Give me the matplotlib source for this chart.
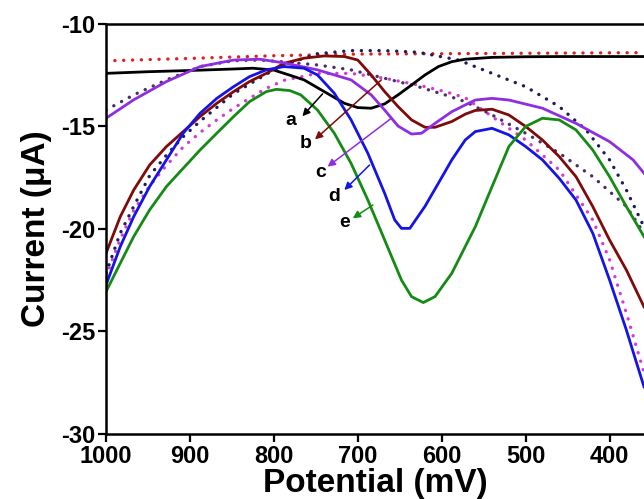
import matplotlib.pyplot as plt
import numpy as np

plt.rcParams['font.family'] = ['Liberation Sans', 'DejaVu Sans']
plt.rcParams['font.weight'] = 'bold'
plt.rcParams['axes.unicode_minus'] = False

# curve a (black)
a_x = [1000, 950, 900, 850, 825, 800, 781, 764, 740, 716, 700, 684, 668, 652, 636, 620, 604, 588, 572, 540, 500, 460, 400, 359]
a_y = [-12.41, -12.33, -12.27, -12.2, -12.16, -12.25, -12.5, -12.73, -13.3, -13.87, -14.08, -14.11, -13.9, -13.46, -12.98, -12.49, -12.08, -11.84, -11.72, -11.63, -11.6, -11.59, -11.59, -11.59]

# curve b (dark red)
b_x = [1000, 983, 967, 948, 928, 908, 888, 868, 848, 829, 809, 788, 764, 740, 716, 700, 684, 668, 652, 636, 620, 608, 588, 572, 560, 540, 520, 500, 480, 460, 440, 420, 400, 380, 359]
b_y = [-21.19, -19.4, -18.1, -16.88, -15.98, -15.25, -14.52, -13.87, -13.3, -12.81, -12.41, -11.92, -11.67, -11.56, -11.59, -11.76, -12.49, -13.3, -14.03, -14.68, -15.04, -15.04, -14.76, -14.4, -14.22, -14.16, -14.44, -15.0, -15.66, -16.47, -17.45, -18.91, -20.54, -22.0, -23.8]

# curve c (violet)
c_x = [1000, 967, 928, 888, 848, 817, 788, 748, 708, 684, 668, 652, 636, 624, 608, 588, 572, 560, 540, 520, 480, 440, 400, 372, 359]
c_y = [-14.6, -13.7, -12.81, -12.08, -11.76, -11.72, -11.9, -12.24, -12.73, -13.46, -14.2, -14.98, -15.37, -15.33, -14.85, -14.28, -13.95, -13.71, -13.63, -13.71, -14.11, -14.85, -15.74, -16.63, -17.28]

# curve d (blue)
d_x = [1000, 983, 967, 948, 928, 908, 888, 868, 848, 829, 809, 788, 764, 748, 728, 708, 688, 668, 656, 648, 638, 620, 604, 588, 572, 560, 540, 520, 500, 480, 460, 440, 420, 400, 380, 359]
d_y = [-22.73, -20.86, -19.4, -17.93, -16.63, -15.33, -14.36, -13.63, -13.06, -12.57, -12.24, -12.08, -12.16, -12.49, -13.38, -14.68, -16.31, -18.26, -19.56, -19.97, -19.97, -18.9, -17.77, -16.63, -15.66, -15.25, -15.09, -15.41, -15.98, -16.63, -17.53, -18.59, -20.21, -22.49, -24.93, -27.7]

# curve e (green)
e_x = [1000, 983, 967, 948, 928, 908, 888, 868, 848, 829, 809, 797, 781, 768, 748, 728, 708, 688, 668, 648, 636, 622, 608, 588, 572, 560, 540, 520, 500, 480, 460, 440, 420, 400, 380, 359]
e_y = [-23.06, -21.67, -20.37, -19.07, -17.93, -17.04, -16.15, -15.33, -14.52, -13.79, -13.3, -13.19, -13.25, -13.46, -14.2, -15.33, -16.8, -18.59, -20.54, -22.49, -23.3, -23.59, -23.3, -22.16, -20.86, -19.89, -17.93, -15.98, -15.0, -14.6, -14.68, -15.17, -16.15, -17.45, -18.91, -20.37]

# dotted curves
red_x = [1000, 900, 800, 700, 600, 500, 359]
red_y = [-11.8, -11.68, -11.55, -11.47, -11.45, -11.43, -11.4]

navy_x = [1000, 983, 967, 948, 928, 908, 888, 848, 809, 788, 748, 708, 668, 628, 580, 540, 500, 460, 428, 400, 380, 359]
navy_y = [-22.16, -20.2, -18.9, -17.4, -16.4, -15.5, -14.75, -13.4, -12.45, -12.0, -11.45, -11.3, -11.3, -11.38, -11.76, -12.41, -13.06, -14.03, -15.17, -16.63, -18.1, -19.9]

mag_x = [1000, 983, 967, 948, 928, 908, 888, 868, 848, 829, 809, 788, 748, 708, 668, 628, 596, 572, 540, 500, 460, 420, 400, 380, 359]
mag_y = [-22.3, -20.5, -19.1, -17.9, -16.9, -16.0, -15.3, -14.68, -14.11, -13.63, -13.14, -12.75, -12.41, -12.41, -12.65, -12.98, -13.3, -13.6, -14.52, -15.66, -17.12, -19.56, -21.5, -24.1, -27.0]

dark_x = [1000, 967, 928, 888, 848, 817, 788, 748, 708, 668, 628, 596, 572, 540, 500, 460, 420, 380, 359]
dark_y = [-14.2, -13.46, -12.73, -12.08, -11.79, -11.76, -11.85, -12.0, -12.24, -12.65, -13.06, -13.46, -13.79, -14.44, -15.33, -16.3, -17.45, -18.9, -20.2]

labels = ['a', 'b', 'c', 'd', 'e']
label_pos = [(780, -14.73), (762, -15.82), (744, -17.24), (728, -18.42), (716, -19.67)]
arrow_tail = [(742, -13.41), (672, -12.73), (660, -14.6), (686, -16.88), (682, -18.83)]
arrow_head = [(766, -14.5), (751, -15.63), (736, -16.96), (716, -18.1), (706, -19.48)]
colors = ['black', '#7f0a0a', '#8e2ee0', '#1414e6', '#158a15']

fig = plt.figure(figsize=(6.44, 4.99), dpi=100)
ax = fig.add_axes([0.1646, 0.1303, 0.8354, 0.8217])

dot = (0, (0.05, 2.6))
for xs, ys, c in zip([red_x, navy_x, mag_x, dark_x], [red_y, navy_y, mag_y, dark_y],
                     ['#e02020', '#1c1c5c', '#d63ad6', '#4a2f66']):
    ax.plot(xs, ys, color=c, lw=2.4, ls=dot, dash_capstyle='round')

for xs, ys, c in zip([a_x, b_x, c_x, d_x, e_x], [a_y, b_y, c_y, d_y, e_y], colors):
    ax.plot(xs, ys, color=c, lw=2)

for lab, lp, t, h, c in zip(labels, label_pos, arrow_tail, arrow_head, colors):
    ax.annotate('', xy=h, xytext=t,
                arrowprops=dict(arrowstyle='-|>', color=c, lw=1.1, mutation_scale=11,
                                shrinkA=0, shrinkB=0))
    ax.text(lp[0], lp[1], lab, ha='center', va='center', fontsize=14, fontweight='bold')

ax.set_xlim(1000, 359)
ax.set_ylim(-30, -10)
ax.set_xticks([1000, 900, 800, 700, 600, 500, 400])
ax.set_yticks([-30, -25, -20, -15, -10])
ax.tick_params(direction='out', length=6, width=1.6, labelsize=17, pad=2)
for lbl in ax.get_xticklabels() + ax.get_yticklabels():
    lbl.set_fontweight('bold')
for s in ['left', 'bottom', 'top']:
    ax.spines[s].set_linewidth(1.8)
ax.spines['right'].set_visible(False)
ax.set_xlabel('Potential (mV)', fontsize=24, fontweight='bold', labelpad=0)
ax.set_ylabel('Current (μA)', fontsize=24, fontweight='bold', labelpad=6)

fig.savefig('out.png', dpi=100)
